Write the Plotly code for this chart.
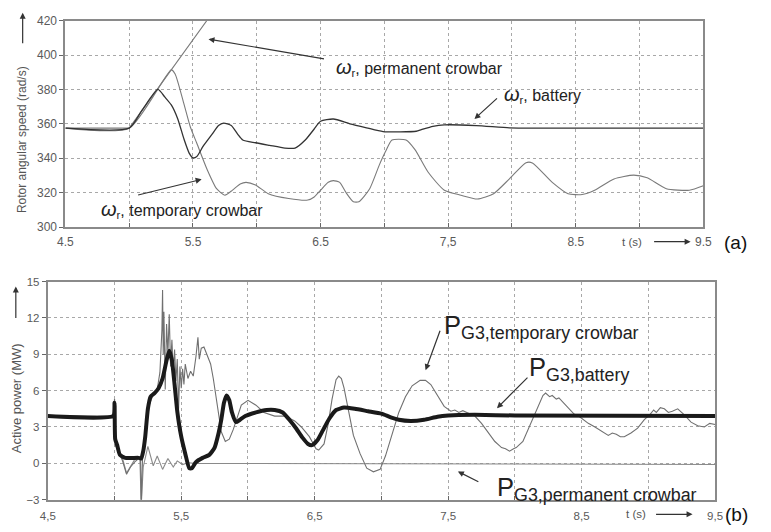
import plotly.graph_objects as go

# ---------------- (a) rotor angular speed, rad/s ----------------
t_w_battery = [4.5, 5.0, 5.1, 5.225, 5.28, 5.33, 5.38, 5.43, 5.47, 5.5, 5.53, 5.58, 5.65, 5.70,
               5.74, 5.80, 5.85, 5.89, 5.99, 6.1, 6.22, 6.30, 6.38, 6.45, 6.50, 6.60, 6.73, 6.86,
               6.99, 7.25, 7.29, 7.38, 7.47, 7.72, 7.98, 8.2, 9.5]
w_battery = [357.5, 357.5, 367.8, 380.0, 375.5, 371.0, 363.0, 351.0, 343.0, 340.2, 341.0, 347.0,
             354.0, 359.0, 360.4, 359.0, 354.0, 350.6, 349.0, 347.5, 345.9, 345.9, 350.6, 357.0,
             361.5, 362.8, 360.0, 357.7, 355.5, 355.7, 356.6, 358.5, 359.4, 359.0, 357.7, 357.5,
             357.5]

t_w_permanent = [4.5, 5.0, 5.65]
w_permanent = [357.5, 357.5, 424.3]

t_w_temporary = [4.5, 5.0, 5.33, 5.36, 5.43, 5.48, 5.53, 5.61, 5.685, 5.75, 5.81, 5.87, 5.915,
                 5.99, 6.09, 6.25, 6.40, 6.45, 6.50, 6.56, 6.60, 6.65, 6.70, 6.757, 6.80, 6.885,
                 6.96, 7.01, 7.06, 7.17, 7.24, 7.345, 7.47, 7.60, 7.73, 7.856, 7.98, 8.11, 8.16,
                 8.316, 8.44, 8.55, 8.648, 8.80, 8.955, 9.06, 9.21, 9.39, 9.5]
w_temporary = [357.5, 357.5, 391.4, 389.0, 371.3, 358.0, 348.7, 333.6, 322.3, 318.5, 321.5, 325.0,
               326.0, 324.5, 319.4, 316.6, 315.7, 317.5, 321.4, 326.0, 327.0, 326.0, 320.0, 314.7,
               314.7, 322.3, 336.0, 344.0, 350.6, 350.6, 345.0, 331.7, 321.4, 318.5, 316.3, 319.4,
               328.0, 337.4, 337.3, 326.0, 319.4, 318.9, 321.4, 328.0, 330.2, 328.6, 322.3, 321.4,
               324.0]

# ---------------- (b) active power of G3, MW ----------------
t_p_battery = [4.5, 4.99, 5.0, 5.005, 5.02, 5.04, 5.08, 5.18, 5.2, 5.215, 5.23, 5.25, 5.27, 5.30,
               5.33, 5.36, 5.39, 5.41, 5.43, 5.45, 5.47, 5.50, 5.53, 5.56, 5.58, 5.61, 5.66, 5.71,
               5.75, 5.78, 5.80, 5.82, 5.84, 5.86, 5.88, 5.91, 5.94, 5.98, 6.06, 6.14, 6.20, 6.26,
               6.31, 6.36, 6.41, 6.45, 6.48, 6.52, 6.56, 6.61, 6.66, 6.72, 6.80, 6.90, 7.0, 7.07,
               7.13, 7.22, 7.32, 7.42, 7.5, 7.7, 8.0, 9.5]
p_battery = [3.9, 3.9, 5.0, 2.0, 1.5, 0.7, 0.45, 0.45, 0.4, 1.0, 2.2, 4.5, 5.5, 5.8,
             6.2, 7.0, 8.5, 9.3, 8.5, 6.5, 4.3, 2.2, 0.8, -0.4, -0.4, 0.1, 0.45, 0.7,
             1.3, 2.5, 3.6, 5.0, 5.6, 5.2, 4.2, 3.4, 3.6, 3.9, 4.2, 4.4, 4.4, 4.2,
             3.6, 2.9, 2.1, 1.6, 1.5, 1.9, 2.7, 3.7, 4.4, 4.6, 4.5, 4.3, 4.1, 3.8,
             3.6, 3.5, 3.6, 3.85, 3.95, 4.0, 3.95, 3.9]

t_p_temporary = [4.5, 4.995, 5.0, 5.005, 5.03, 5.06, 5.09, 5.12, 5.15, 5.18, 5.195, 5.2, 5.21,
                 5.23, 5.26, 5.29, 5.32, 5.34, 5.355, 5.36, 5.365, 5.37, 5.38, 5.39, 5.40, 5.41,
                 5.42, 5.43, 5.44, 5.45, 5.46, 5.47, 5.48, 5.49, 5.50, 5.51, 5.52, 5.53, 5.55,
                 5.57, 5.59, 5.61, 5.625, 5.635, 5.65, 5.67, 5.69, 5.72, 5.74, 5.76, 5.78, 5.80,
                 5.83, 5.86, 5.89, 5.92, 5.95, 6.0, 6.06, 6.12, 6.2, 6.28, 6.35, 6.40, 6.46,
                 6.51, 6.53, 6.57, 6.60, 6.63, 6.66, 6.68, 6.70, 6.72, 6.75, 6.79, 6.84, 6.89,
                 6.94, 6.99, 7.03, 7.08, 7.13, 7.18, 7.23, 7.29, 7.33, 7.37, 7.42, 7.47, 7.52,
                 7.55, 7.58, 7.61, 7.64, 7.70, 7.75, 7.80, 7.85, 7.88, 7.90, 7.93, 7.96, 7.99,
                 8.01, 8.06, 8.10, 8.14, 8.19, 8.21, 8.23, 8.26, 8.28, 8.31, 8.33, 8.38, 8.44,
                 8.49, 8.55, 8.60, 8.63, 8.66, 8.70, 8.73, 8.76, 8.79, 8.82, 8.87, 8.92, 8.97,
                 9.01, 9.04, 9.06, 9.09, 9.12, 9.15, 9.18, 9.22, 9.27, 9.32, 9.37, 9.42, 9.46,
                 9.5]
p_temporary = [3.9, 3.9, 5.3, 1.5, 1.0, 0.2, -0.9, -0.3, 0.1, 0.4, 0.4, -3.5, 0.5,
               2.2, 4.8, 5.7, 6.1, 7.5, 11.0, 14.3, 9.0, 12.5, 6.1, 11.5, 9.0, 12.3,
               8.0, 10.2, 7.6, 9.4, 6.8, 8.6, 4.5, 8.0, 6.2, 7.8, 6.5, 8.2, 7.0,
               7.6, 7.2, 8.8, 10.4, 8.6, 9.5, 9.6, 9.0, 8.2, 7.0, 5.6, 4.0, 2.6,
               1.8, 2.0, 2.8, 3.9, 4.8, 5.2, 4.8, 4.2, 3.9, 3.9, 3.5, 3.0, 2.2,
               1.2, 1.1, 1.6, 3.2, 5.3, 6.9, 7.2, 7.0, 6.2, 4.5, 2.3, 0.8, -0.4,
               -0.7, -0.5, 0.6, 2.3, 4.2, 5.5, 6.4, 6.85, 6.85, 6.5, 5.6, 4.7, 4.3,
               4.4, 4.2, 4.35, 4.2, 3.9, 3.3, 2.5, 1.8, 1.5, 1.3, 1.2, 1.0, 1.2,
               1.3, 1.8, 2.8, 3.8, 5.0, 5.6, 5.8, 5.5, 5.6, 5.3, 5.4, 4.8, 4.1,
               3.8, 3.3, 3.0, 2.8, 2.6, 2.3, 2.5, 2.4, 2.2, 2.2, 2.5, 2.9, 3.6,
               4.0, 4.4, 4.2, 4.6, 4.5, 4.2, 4.3, 4.5, 4.0, 3.4, 3.1, 3.0, 3.3,
               3.2]

t_p_permanent = [4.5, 4.995, 5.0, 5.005, 5.03, 5.06, 5.09, 5.12, 5.15, 5.19, 5.2, 5.215, 5.25,
                 5.29, 5.32, 5.36, 5.40, 5.44, 5.47, 5.51, 5.55, 5.6, 9.5]
p_permanent = [3.9, 3.9, 5.3, 1.8, 0.8, 0.4, -0.8, -0.2, 0.3, 0.4, -3.5, -0.3, 1.4,
               -0.2, 0.6, -0.5, 0.4, -0.3, 0.2, -0.1, 0.05, 0.0, -0.1]

# ---------------- axis ticks ----------------
t_ticks = [4.5, 5.0, 5.5, 6.0, 6.5, 7.0, 7.5, 8.0, 8.5, 9.0, 9.5]
t_labels_a = ["4.5", "", "5.5", "", "6.5", "", "7,5", "", "8.5", "", "9.5"]
t_labels_b = ["4,5", "", "5,5", "", "6,5", "", "7,5", "", "8,5", "", "9,5"]
w_ticks = [300, 320, 340, 360, 380, 400, 420]
p_ticks = [-3, 0, 3, 6, 9, 12, 15]

# ---------------- layout helpers (pixel -> paper) ----------------
W, H = 771, 532


def px(x):
    return x / W


def py(y):
    return 1 - y / H


FONT = "Liberation Sans, Arial, sans-serif"
GRID = "#a8a8a8"
FRAME = "#8a8a8a"

fig = go.Figure()

# (a)
fig.add_trace(go.Scatter(x=t_w_permanent, y=w_permanent, mode="lines",
                         line=dict(color="#7a7a7a", width=1.1), xaxis="x", yaxis="y"))
fig.add_trace(go.Scatter(x=t_w_temporary, y=w_temporary, mode="lines",
                         line=dict(color="#7a7a7a", width=1.1, shape="spline", smoothing=0.6),
                         xaxis="x", yaxis="y"))
fig.add_trace(go.Scatter(x=t_w_battery, y=w_battery, mode="lines",
                         line=dict(color="#333333", width=1.3, shape="spline", smoothing=0.6),
                         xaxis="x", yaxis="y"))

# (b)
fig.add_trace(go.Scatter(x=t_p_permanent, y=p_permanent, mode="lines",
                         line=dict(color="#8a8a8a", width=1.1), xaxis="x2", yaxis="y2"))
fig.add_trace(go.Scatter(x=t_p_temporary, y=p_temporary, mode="lines",
                         line=dict(color="#707070", width=1.1), xaxis="x2", yaxis="y2"))
fig.add_trace(go.Scatter(x=t_p_battery, y=p_battery, mode="lines",
                         line=dict(color="#1a1a1a", width=4, shape="spline", smoothing=0.5),
                         xaxis="x2", yaxis="y2"))


def xaxis(domain, anchor, labels, size, standoff):
    return dict(domain=domain, anchor=anchor, range=[4.5, 9.5], tickmode="array",
                tickvals=t_ticks, ticktext=labels, showgrid=True, gridcolor=GRID,
                griddash="dot", gridwidth=1, zeroline=False, showline=True, mirror=True,
                linecolor=FRAME, linewidth=2, ticks="inside", ticklen=4, tickcolor="#666",
                ticklabelstandoff=standoff,
                tickfont=dict(family=FONT, size=size, color="#5a5a5a"))


def yaxis(domain, anchor, rng, vals, size):
    return dict(domain=domain, anchor=anchor, range=rng, tickmode="array", tickvals=vals,
                showgrid=True, gridcolor=GRID, griddash="dot", gridwidth=1, zeroline=False,
                showline=True, mirror=True, linecolor=FRAME, linewidth=2, ticks="outside",
                ticklen=4, tickcolor="#666",
                tickfont=dict(family=FONT, size=size, color="#5a5a5a"))


ARROW = dict(showarrow=True, arrowhead=2, arrowsize=1, arrowwidth=1.2, arrowcolor="#333",
             xref="paper", yref="paper", text="")


def arrow(hx, hy, tx, ty):
    return dict(ARROW, x=px(hx), y=py(hy), ax=tx - hx, ay=ty - hy)


def label(x, y, text, size, anchor="left", angle=0, color="#222"):
    return dict(x=px(x), y=py(y), xref="paper", yref="paper", text=text, showarrow=False,
                xanchor=anchor, yanchor="middle", textangle=angle,
                font=dict(family=FONT, size=size, color=color))


omega = "<i><span style='font-size:20px'>ω</span></i><sub>r</sub>"
annotations = [
    # (a)
    label(333, 62, omega + ", permanent crowbar", 16),
    arrow(205, 33, 322, 53),
    label(505, 90, omega + ", battery", 16),
    arrow(477, 115, 501, 93),
    label(93, 208, omega + ", temporary crowbar", 16),
    arrow(198, 177, 133, 193),
    label(15, 136, "Rotor angular speed (rad/s)", 12, anchor="center", angle=-90, color="#555"),
    arrow(15, 6, 15, 38),
    label(626, 241, "t (s)", 11.5, color="#555"),
    arrow(698, 241, 660, 241),
    label(744, 242, "(a)", 19, anchor="center", color="#111"),
    # (b)
    label(444, 329, "P<sub>G3,temporary crowbar</sub>", 25.5),
    arrow(427, 373, 442, 332),
    label(531, 372, "P<sub>G3,battery</sub>", 25.5),
    arrow(500, 412, 532, 380),
    label(498, 495, "P<sub>G3,permanent crowbar</sub>", 25.5),
    arrow(460, 477, 482, 488),
    label(9, 402, "Active power (MW)", 13, anchor="center", angle=-90, color="#555"),
    arrow(8, 287, 8, 320),
    label(630, 521, "t (s)", 11.5, color="#555"),
    arrow(700, 521, 662, 521),
    label(745, 521, "(b)", 19, anchor="center", color="#111"),
]

fig.update_layout(
    width=W, height=H,
    margin=dict(l=0, r=0, t=0, b=0),
    paper_bgcolor="white", plot_bgcolor="white",
    showlegend=False,
    font=dict(family=FONT),
    xaxis=xaxis([px(58.7), px(711)], "y", t_labels_a, 12, 3),
    yaxis=yaxis([py(226), py(14)], "x", [300, 420], w_ticks, 12),
    xaxis2=xaxis([px(40.7), px(723)], "y2", t_labels_b, 11.5, 5),
    yaxis2=yaxis([py(506), py(282)], "x2", [-3, 15], p_ticks, 11.5),
    annotations=annotations,
)

fig.write_html("out.html")
